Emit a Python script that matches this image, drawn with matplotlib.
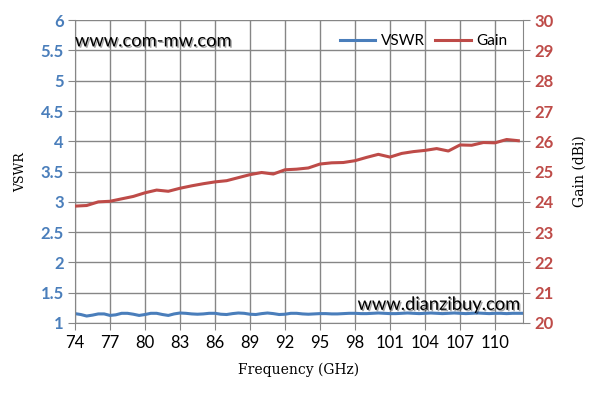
import numpy as np
import matplotlib
matplotlib.use("Agg")
import matplotlib.pyplot as plt
import matplotlib.patheffects as pe

# data
freq_gain = list(range(74, 113))
gain = [23.86, 23.88, 24.00, 24.02, 24.10, 24.18, 24.30, 24.39, 24.35, 24.45,
        24.53, 24.60, 24.66, 24.70, 24.80, 24.90, 24.97, 24.92, 25.06, 25.08,
        25.12, 25.25, 25.29, 25.30, 25.36, 25.47, 25.57, 25.48, 25.60, 25.66,
        25.70, 25.76, 25.68, 25.88, 25.87, 25.96, 25.95, 26.06, 26.02]

freq_vswr = list(np.arange(74, 112.51, 0.5))
vswr = [1.155, 1.14, 1.115, 1.13, 1.15, 1.15, 1.125, 1.135, 1.16, 1.16,
        1.145, 1.125, 1.14, 1.16, 1.16, 1.14, 1.125, 1.15, 1.165, 1.16,
        1.15, 1.145, 1.15, 1.16, 1.16, 1.145, 1.14, 1.155, 1.165, 1.16,
        1.145, 1.14, 1.155, 1.165, 1.155, 1.14, 1.145, 1.16, 1.16, 1.15,
        1.145, 1.15, 1.155, 1.155, 1.15, 1.15, 1.155, 1.16, 1.16, 1.155,
        1.155, 1.16, 1.165, 1.16, 1.155, 1.155, 1.16, 1.165, 1.16, 1.155,
        1.16, 1.165, 1.16, 1.155, 1.16, 1.165, 1.16, 1.155, 1.16, 1.165,
        1.16, 1.155, 1.16, 1.16, 1.155, 1.16, 1.16, 1.16]

xticks = list(range(74, 111, 3))

blue = '#4A7EBB'
red = '#BE4B48'
grid_c = '#868686'

fig = plt.figure(figsize=(5.95, 4.04), dpi=100)
ax = fig.add_axes([0.126, 0.2005, 0.753, 0.7495])
ax2 = ax.twinx()

l1, = ax.plot(freq_vswr, vswr, color=blue, lw=2.2, label='VSWR')
l2, = ax2.plot(freq_gain, gain, color=red, lw=2.2, label='Gain')

ax.set_xlim(74, 112.4)
ax.set_ylim(1, 6)
ax2.set_ylim(20, 30)
ax.set_xticks(xticks)
ax.set_yticks(np.arange(1, 6.01, 0.5))
ax.set_yticklabels(['1', '1.5', '2', '2.5', '3', '3.5', '4', '4.5', '5', '5.5', '6'])
ax2.set_yticks(range(20, 31))

ax.grid(True, color=grid_c, lw=1)
for a in (ax, ax2):
    for s in a.spines.values():
        s.set_visible(False)
ax.spines['left'].set_visible(True)
ax.spines['left'].set_color(grid_c)
ax.spines['bottom'].set_visible(True)
ax.spines['bottom'].set_color(grid_c)
ax2.spines['right'].set_visible(True)
ax2.spines['right'].set_color(grid_c)

ax.tick_params(axis='y', colors=grid_c, labelcolor=blue, length=5, pad=3)
ax.tick_params(axis='x', colors=grid_c, labelcolor='black', length=5, pad=4)
ax2.tick_params(axis='y', colors=grid_c, labelcolor=red, length=5, pad=3)
for lab in ax.get_yticklabels():
    lab.set_fontfamily('Lato'); lab.set_fontweight('bold'); lab.set_fontsize(12)
for lab in ax2.get_yticklabels():
    lab.set_fontfamily('Lato'); lab.set_fontweight('bold'); lab.set_fontsize(12)
for lab in ax.get_xticklabels():
    lab.set_fontfamily('Lato'); lab.set_fontsize(12)

ax.set_xlabel('Frequency (GHz)', family='DejaVu Serif', fontsize=10, labelpad=8)
ax.set_ylabel('VSWR', family='DejaVu Serif', fontsize=9, labelpad=10)
ax2.set_ylabel('Gain (dBi)', family='DejaVu Serif', fontsize=10, rotation=90, labelpad=14)

leg = ax.legend(handles=[l1, l2], loc='upper right', ncol=2, frameon=False,
                prop={'family': 'Lato', 'size': 11}, handlelength=2.3,
                columnspacing=0.7, handletextpad=0.35, bbox_to_anchor=(0.995, 1.0))

shadow = [pe.SimplePatchShadow(offset=(1, -1), alpha=0.35), pe.Normal()]
ax.text(0.0, 0.93, 'www.com-mw.com', transform=ax.transAxes, family='Lato',
        fontsize=13.2, color='black', va='center', ha='left', path_effects=shadow)
ax.text(0.995, 0.06, 'www.dianzibuy.com', transform=ax.transAxes, family='Lato',
        fontsize=13.2, color='black', va='center', ha='right', path_effects=shadow)

fig.savefig('out.png', dpi=100)
